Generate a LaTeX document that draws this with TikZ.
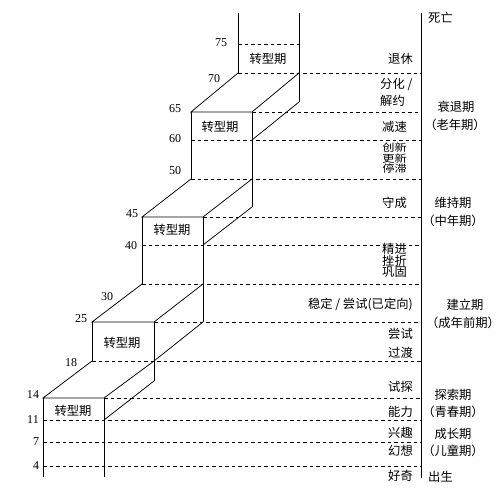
\documentclass[tikz,border=0pt]{standalone}
\usepackage{fontspec}
\setmainfont{Liberation Serif}
\newfontfamily\cjk{Noto Sans CJK SC}
\usepackage{tikz}
\usetikzlibrary{calc}

\begin{document}
\begin{tikzpicture}[x=1pt, y=-1pt,
		edge/.style={line width=0.75pt},
		ageline/.style={line width=0.7pt, dash pattern=on 3.5pt off 3pt},
		age/.style={font=\fontsize{12}{12}\selectfont, inner sep=0pt},
		word/.style={font=\cjk\fontsize{12.3}{14}\selectfont, inner sep=0pt},
		tight/.style={font=\cjk\fontsize{10.2}{10}\selectfont, inner sep=0pt}]
		%%%%% START %%%%%
		\useasboundingbox (0, 0) rectangle (500, 489);
		
		% age lines
		\draw[ageline] (238, 44) -- (299, 44);
		\draw[ageline] (238, 73) -- (421, 73);
		\draw[ageline] (252, 112) -- (421, 112);
		\draw[ageline] (191, 140) -- (421, 140);
		\draw[ageline] (191, 179) -- (421, 179);
		\draw[ageline] (203, 217) -- (421, 217);
		\draw[ageline] (142, 245) -- (421, 245);
		\draw[ageline] (142, 284) -- (421, 284);
		\draw[ageline] (154, 322) -- (421, 322);
		\draw[ageline] (92, 361) -- (421, 361);
		\draw[ageline] (104, 398) -- (421, 398);
		\draw[ageline] (43, 420) -- (421, 420);
		\draw[ageline] (43, 442) -- (421, 442);
		\draw[ageline] (43, 466) -- (421, 466);
		
		% life line
		\draw[line width=1pt] (421, 13) -- (421, 478);
		
		% top
		\draw[edge] (238, 13) -- (238, 73);
		\draw[edge] (299, 13) -- (299, 102);
		
		% box 65-60
		\draw[edge] (238, 73) -- (191, 112) -- (252, 112) -- (299, 73);
		\draw[edge] (252, 140) -- (299, 102);
		\draw[edge] (191, 112) -- (191, 179);
		\draw[edge] (252, 112) -- (252, 207);
		
		% box 45-40
		\draw[edge] (191, 179) -- (142, 217) -- (203, 217) -- (252, 179);
		\draw[edge] (203, 245) -- (252, 207);
		\draw[edge] (142, 217) -- (142, 284);
		\draw[edge] (203, 217) -- (203, 322);
		
		% box 25-18
		\draw[edge] (142, 284) -- (92, 322) -- (154, 322) -- (203, 284);
		\draw[edge] (154, 361) -- (203, 322);
		\draw[edge] (92, 322) -- (92, 361);
		\draw[edge] (154, 322) -- (154, 381);
		
		% box 14-11
		\draw[edge] (92, 361) -- (43, 398) -- (104, 398) -- (154, 361);
		\draw[edge] (104, 420) -- (154, 381);
		\draw[edge] (43, 398) -- (43, 477);
		\draw[edge] (104, 398) -- (104, 477);
		
		% transition boxes
		\node[word] (t75) at (268, 59) {转型期};
		\node[word] (t65) at (220, 127) {转型期};
		\node[word] (t45) at (172, 230) {转型期};
		\node[word] (t25) at (122, 343) {转型期};
		\node[word] (t14) at (73, 411) {转型期};
		
		% ages
		\node[age] (a75) at (221, 43) {75};
		\node[age] (a70) at (214, 79) {70};
		\node[age] (a65) at (175, 109) {65};
		\node[age] (a60) at (175, 139) {60};
		\node[age] (a50) at (175, 171) {50};
		\node[age] (a45) at (132, 214) {45};
		\node[age] (a40) at (131, 246) {40};
		\node[age] (a30) at (107, 297) {30};
		\node[age] (a25) at (81, 319) {25};
		\node[age] (a18) at (71, 363) {18};
		\node[age] (a14) at (33, 395) {14};
		\node[age] (a11) at (33, 420) {11};
		\node[age] (a7) at (36, 442) {7};
		\node[age] (a4) at (36, 466) {4};
		
		% tasks
		\node[word, anchor=east] (retire) at (413, 59) {退休};
		\node[word, anchor=west] (split) at (380, 84) {分化 /};
		\node[word, anchor=west] (release) at (380, 101) {解约};
		\node[word, anchor=east] (slow) at (407, 127) {减速};
		\node[tight, anchor=east] (innov) at (407, 148) {\scalebox{1.2}[1]{创新}};
		\node[tight, anchor=east] (renew) at (407, 158.5) {\scalebox{1.2}[1]{更新}};
		\node[tight, anchor=east] (stag) at (407, 169) {\scalebox{1.2}[1]{停滞}};
		\node[word, anchor=east] (keep) at (407, 203) {守成};
		\node[word, anchor=east] (advance) at (407, 249) {精进};
		\node[word, anchor=east] (setback) at (407, 260.5) {挫折};
		\node[word, anchor=east] (hold) at (407, 272) {巩固};
		\node[word, anchor=east] (settle) at (413, 304) {稳定 / 尝试(已定向)};
		\node[word, anchor=east] (try) at (413, 334) {尝试};
		\node[word, anchor=east] (pass) at (413, 353) {过渡};
		\node[word, anchor=east] (probe) at (413, 387) {试探};
		\node[word, anchor=east] (skill) at (413, 412) {能力};
		\node[word, anchor=east] (interest) at (413, 433) {兴趣};
		\node[word, anchor=east] (fancy) at (413, 451) {幻想};
		\node[word, anchor=east] (curious) at (413, 476) {好奇};
		
		% stages
		\node[word, anchor=west] (death) at (428, 18) {死亡};
		\node[word] (decline) at (456, 107) {衰退期};
		\node[word] (old) at (455, 125) {（老年期）};
		\node[word] (maint) at (453, 203) {维持期};
		\node[word] (middle) at (453, 221) {（中年期）};
		\node[word] (estab) at (465, 305) {建立期};
		\node[word] (adult) at (463, 323) {（成年前期）};
		\node[word] (explore) at (453, 395) {探索期};
		\node[word] (youth) at (453, 412) {（青春期）};
		\node[word] (grow) at (453, 434) {成长期};
		\node[word] (child) at (453, 451) {（儿童期）};
		\node[word, anchor=west] (birth) at (428, 477) {出生};
		
		%%%%% END %%%%%
\end{tikzpicture}
\end{document}
